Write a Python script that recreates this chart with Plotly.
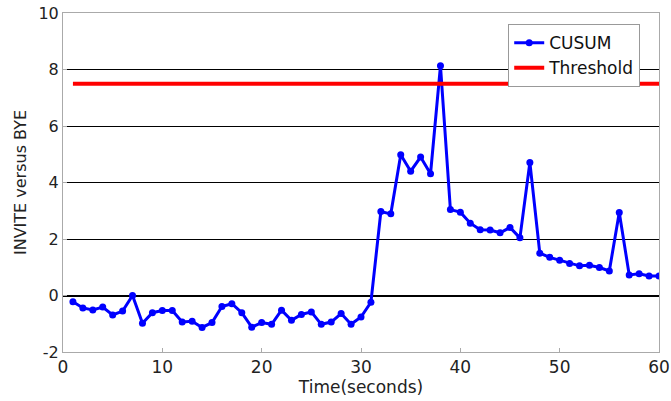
import plotly.graph_objects as go

time_s = list(range(1, 61))
cusum = [-0.22, -0.44, -0.51, -0.41, -0.69, -0.55, 0.0, -0.98, -0.61, -0.53,
         -0.53, -0.94, -0.91, -1.13, -0.96, -0.39, -0.29, -0.61, -1.12, -0.96,
         -1.02, -0.52, -0.88, -0.67, -0.58, -1.02, -0.94, -0.64, -1.02, -0.76,
         -0.24, 2.97, 2.89, 4.98, 4.40, 4.90, 4.31, 8.13, 3.04, 2.95,
         2.56, 2.33, 2.32, 2.22, 2.41, 2.04, 4.71, 1.50, 1.35, 1.25,
         1.13, 1.05, 1.07, 0.99, 0.87, 2.94, 0.73, 0.77, 0.69, 0.69]
threshold_x = [1, 60]
threshold_y = [7.5, 7.5]

x_ticks = [0, 10, 20, 30, 40, 50, 60]
y_ticks = [-2, 0, 2, 4, 6, 8, 10]

font_family = "DejaVu Sans, Liberation Sans, Arial, sans-serif"

fig = go.Figure()
fig.add_trace(go.Scatter(
    x=time_s, y=cusum, mode="lines+markers", name="CUSUM",
    line=dict(color="#0000ff", width=3),
    marker=dict(color="#0000ff", size=7),
))
fig.add_trace(go.Scatter(
    x=threshold_x, y=threshold_y, mode="lines", name="Threshold",
    line=dict(color="#ff0000", width=4),
))

fig.update_layout(
    width=671, height=401,
    margin=dict(l=63, r=12, t=13, b=49),
    paper_bgcolor="white", plot_bgcolor="white",
    font=dict(family=font_family, size=16, color="#222222"),
    showlegend=True,
    legend=dict(
        x=0.747, y=0.967, xanchor="left", yanchor="top",
        bgcolor="white", bordercolor="#999999", borderwidth=1,
        font=dict(size=17, color="#111111"),
        tracegroupgap=0, itemwidth=30,
    ),
    xaxis=dict(
        range=[0, 60], tickvals=x_ticks, ticktext=[str(v) for v in x_ticks],
        showgrid=False, zeroline=False, automargin=False,
        showline=True, linecolor="#aaaaaa", linewidth=1, mirror=True,
        ticks="inside", ticklen=4, tickcolor="#aaaaaa",
        tickfont=dict(size=17),
        title=dict(text="Time(seconds)", font=dict(size=17), standoff=0),
    ),
    yaxis=dict(
        range=[-2, 10], tickvals=y_ticks, ticktext=[str(v) for v in y_ticks],
        showgrid=True, gridcolor="#000000", gridwidth=1.3,
        zeroline=True, zerolinecolor="#000000", zerolinewidth=2,
        automargin=False,
        showline=True, linecolor="#aaaaaa", linewidth=1, mirror=True,
        ticks="inside", ticklen=4, tickcolor="#aaaaaa",
        tickfont=dict(size=16),
        title=dict(text="INVITE versus BYE", font=dict(size=16), standoff=7),
    ),
)

fig.write_html(
    "out.html",
    config={"displayModeBar": False},
    post_script="document.body.style.margin='0';document.body.style.overflow='hidden';",
)
